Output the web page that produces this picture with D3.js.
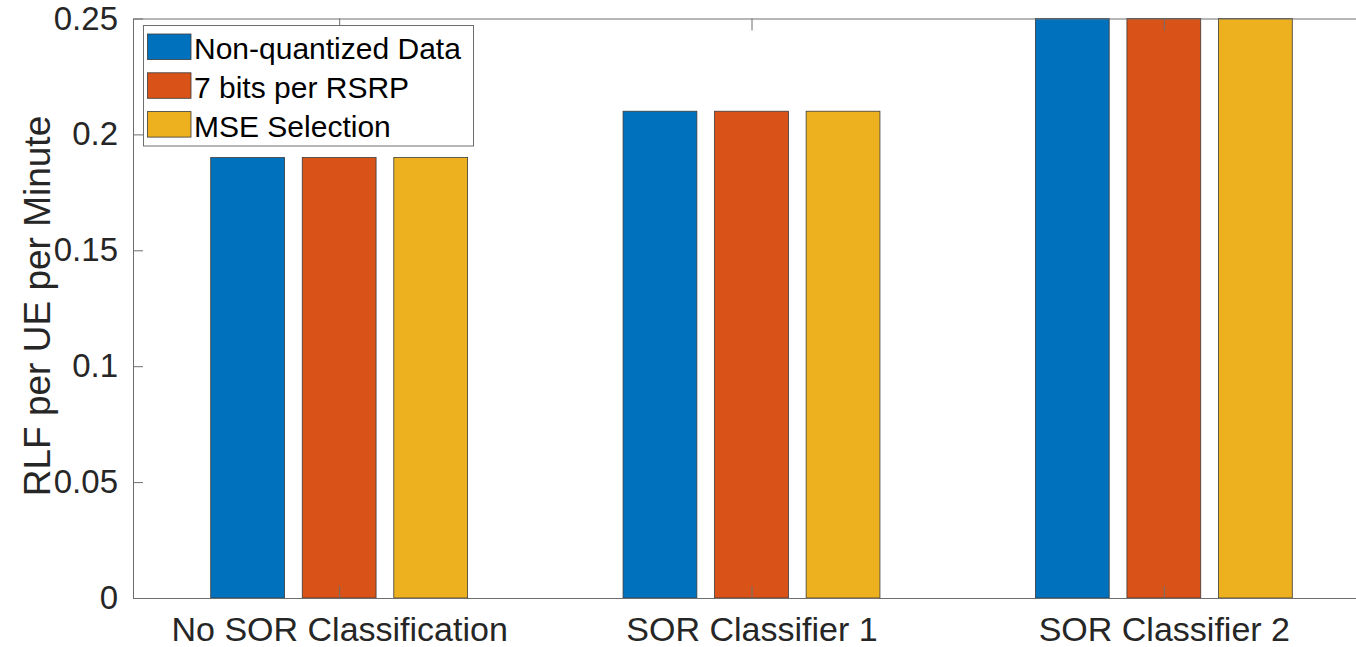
<!DOCTYPE html>
<html>
<head>
<meta charset="utf-8">
<script src="https://cdn.jsdelivr.net/npm/d3@7"></script>
<style>
  body { margin: 0; background: #fff; }
  svg { display: block; font-family: "Liberation Sans", Arial, sans-serif; }
</style>
</head>
<body>
<div id="chart-area"></div>
<script>
// data
const categories = ["No SOR Classification", "SOR Classifier 1", "SOR Classifier 2"]
const seriesNames = ["Non-quantized Data", "7 bits per RSRP", "MSE Selection"]
const nonQuantized = [0.19, 0.21, 0.25]
const sevenBits = [0.19, 0.21, 0.25]
const mseSelection = [0.19, 0.21, 0.25]
const yTicks = [0, 0.05, 0.1, 0.15, 0.2, 0.25]
const yTickLabels = ["0", "0.05", "0.1", "0.15", "0.2", "0.25"]

const colors = ["#0072BD", "#D95319", "#EDB120"]
const series = [nonQuantized, sevenBits, mseSelection]

const W = 1356, H = 647
const PLOT = { LEFT: 133, RIGHT: 1370, TOP: 18.5, BOTTOM: 598 }

const svg = d3.select("#chart-area").append("svg")
  .attr("width", W)
  .attr("height", H)

// SCALES
const x = d3.scaleLinear().domain([0.5, 3.5]).range([PLOT.LEFT, PLOT.RIGHT])
const y = d3.scaleLinear().domain([0, 0.25]).range([PLOT.BOTTOM, PLOT.TOP])
const offsets = [-0.222, 0, 0.222]
const barW = 0.179

// BARS
series.forEach((vals, s) => {
  svg.append("g").selectAll("rect")
    .data(vals)
    .enter().append("rect")
      .attr("x", (d, i) => x(i + 1 + offsets[s] - barW / 2))
      .attr("width", x(barW) - x(0))
      .attr("y", d => y(d))
      .attr("height", d => y(0) - y(d))
      .attr("fill", colors[s])
      .attr("stroke", "#3a3a3a")
      .attr("stroke-width", 0.8)
})

// AXES (matlab style box with inward ticks)
const axisColor = "#6e6e6e"
const yAxis = d3.axisLeft(y)
  .tickValues(yTicks)
  .tickFormat((d, i) => yTickLabels[i])
  .tickSizeInner(-10)
  .tickSizeOuter(0)
  .tickPadding(15)
const gy = svg.append("g")
  .attr("transform", `translate(${PLOT.LEFT},0)`)
  .call(yAxis)

const xAxis = d3.axisBottom(x)
  .tickValues([1, 2, 3])
  .tickFormat((d, i) => categories[i])
  .tickSizeInner(-12)
  .tickSizeOuter(0)
  .tickPadding(19)
const gx = svg.append("g")
  .attr("transform", `translate(0,${PLOT.BOTTOM})`)
  .call(xAxis)

const xTop = d3.axisTop(x)
  .tickValues([1, 2, 3])
  .tickFormat("")
  .tickSizeInner(-12)
  .tickSizeOuter(0)
svg.append("g")
  .attr("transform", `translate(0,${PLOT.TOP})`)
  .call(xTop)

svg.selectAll(".domain, .tick line").attr("stroke", axisColor).attr("stroke-width", 1)
gy.selectAll("text").attr("font-size", "33px").attr("fill", "#262626")
  .attr("font-family", "Liberation Sans, Arial, sans-serif")
gx.selectAll("text").attr("font-size", "34px").attr("fill", "#262626")
  .attr("font-family", "Liberation Sans, Arial, sans-serif")

// Y LABEL
svg.append("text")
  .attr("transform", `translate(50,306) rotate(-90)`)
  .attr("text-anchor", "middle")
  .attr("font-size", "37px")
  .attr("fill", "#262626")
  .text("RLF per UE per Minute")

// LEGEND
const legend = svg.append("g")
legend.append("rect")
  .attr("x", 143.5).attr("y", 25.5)
  .attr("width", 330).attr("height", 120.5)
  .attr("fill", "#fff")
  .attr("stroke", axisColor)
  .attr("stroke-width", 1)
seriesNames.forEach((name, i) => {
  const yy = 34 + i * 38.8
  legend.append("rect")
    .attr("x", 147.5).attr("y", yy)
    .attr("width", 43.5).attr("height", 25.5)
    .attr("fill", colors[i])
    .attr("stroke", "#3a3a3a")
    .attr("stroke-width", 0.8)
  legend.append("text")
    .attr("x", 194)
    .attr("y", yy + 25)
    .attr("font-size", "30px")
    .attr("fill", "#000")
    .text(name)
})
</script>
</body>
</html>
